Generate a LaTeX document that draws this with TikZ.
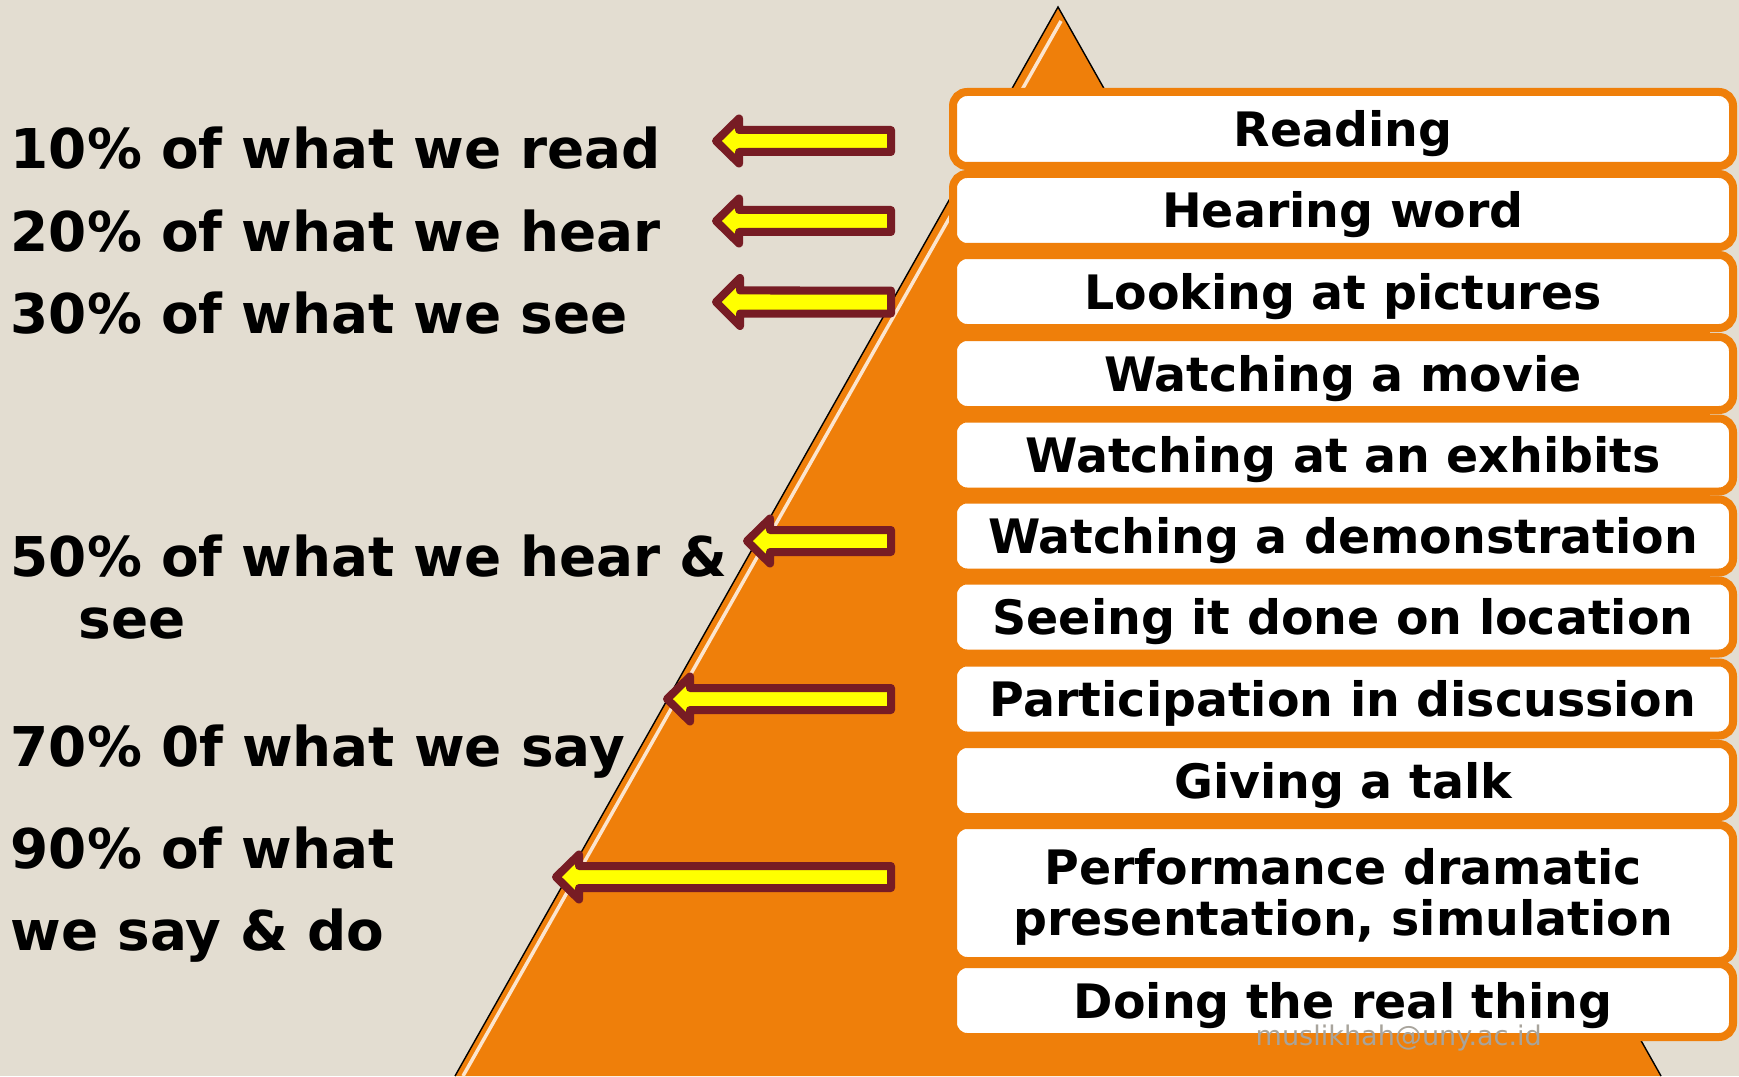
\documentclass[tikz,border=0pt]{standalone}
\usepackage{fontspec}
\setmainfont{DejaVu Sans}
\usepackage{tikz}
\definecolor{bgbeige}{RGB}{227, 221, 209}
\definecolor{pyrorange}{RGB}{239, 127, 10}
\definecolor{arrowred}{RGB}{119, 28, 36}
\definecolor{arrowyellow}{RGB}{255, 255, 0}
\definecolor{markgray}{RGB}{168, 164, 156}
\newcommand{\boxfont}{\bfseries\fontsize{13.5}{14.6}\selectfont}
\newcommand{\sidefont}{\bfseries\fontsize{15.6}{18}\selectfont}

\begin{document}
\begin{tikzpicture}[
  stage/.style={draw=pyrorange, line width=0.08cm, fill=white, rounded corners=0.14cm,
    minimum width=7.8cm, minimum height=0.73cm, inner sep=0pt, font=\boxfont},
  oneline/.style={text height=0.35cm, text depth=0pt},
  percent/.style={anchor=base west, inner sep=0pt, font=\sidefont},
  pointer/.style={draw=arrowred, fill=arrowyellow, line width=0.08cm, line join=round}]
\fill[bgbeige] (0,0) rectangle (17.39,10.76);
\useasboundingbox (0,0) rectangle (17.39,10.76);
% pyramid
\coordinate (apex) at (10.58,10.69);
\coordinate (baseL) at (4.55,0);
\coordinate (baseR) at (16.61,0);
\fill[pyrorange] (baseL) -- (apex) -- (baseR) -- cycle;
\draw[white!80!pyrorange, line width=0.035cm] (10.61,10.55) -- (4.63,0);
\draw[line width=0.4pt] (baseL) -- (apex) -- (baseR);
% arrows
\draw[pointer] (7.16,9.35) -- ++(0.23,0.225) -- ++(0,-0.115) -- (8.91,9.46) -- (8.91,9.24) -- (7.39,9.24) -- ++(0,-0.115) -- cycle;
\draw[pointer] (7.16,8.55) -- ++(0.23,0.225) -- ++(0,-0.115) -- (8.91,8.66) -- (8.91,8.44) -- (7.39,8.44) -- ++(0,-0.115) -- cycle;
\draw[pointer] (7.16,7.74) -- ++(0.24,0.24) -- ++(0,-0.125) -- (8.91,7.855) -- (8.91,7.625) -- (7.40,7.625) -- ++(0,-0.125) -- cycle;
\draw[pointer] (7.47,5.35) -- ++(0.23,0.225) -- ++(0,-0.115) -- (8.91,5.46) -- (8.91,5.24) -- (7.70,5.24) -- ++(0,-0.115) -- cycle;
\draw[pointer] (6.67,3.77) -- ++(0.23,0.225) -- ++(0,-0.115) -- (8.91,3.88) -- (8.91,3.66) -- (6.90,3.66) -- ++(0,-0.115) -- cycle;
\draw[pointer] (5.56,1.99) -- ++(0.23,0.225) -- ++(0,-0.115) -- (8.91,2.10) -- (8.91,1.88) -- (5.79,1.88) -- ++(0,-0.115) -- cycle;
% stages
\fill[pyrorange] (9.70,0.755) rectangle (17.10,9.47);
\node[stage, oneline, minimum height=0.74cm] (reading) at (13.43,9.47) {Reading};
\node[stage, oneline] (hearing) at (13.43,8.655) {Hearing word};
\node[stage, oneline] (pictures) at (13.43,7.845) {Looking at pictures};
\node[stage, oneline] (movie) at (13.43,7.025) {Watching a movie};
\node[stage, oneline] (exhibit) at (13.43,6.21) {Watching at an exhibits};
\node[stage, oneline] (demo) at (13.43,5.40) {Watching a demonstration};
\node[stage, oneline] (location) at (13.43,4.59) {Seeing it done on location};
\node[stage, oneline] (discuss) at (13.43,3.77) {Participation in discussion};
\node[stage, oneline] (talk) at (13.43,2.955) {Giving a talk};
\node[stage, align=center, minimum height=1.36cm] (perform) at (13.43,1.83) {\rule{0pt}{0.44cm}Performance dramatic\\presentation, simulation};
\node[stage, oneline] (real) at (13.43,0.755) {Doing the real thing};
% percentages
\node[percent] (read) at (0.10,9.07) {10\% of what we read};
\node[percent] (hear) at (0.10,8.24) {20\% of what we hear};
\node[percent] (see) at (0.10,7.43) {30\% of what we see};
\node[percent] (hearsee) at (0.10,5.00) {50\% of what we hear \&};
\node[percent] (hearsee2) at (0.78,4.38) {see};
\node[percent] (say) at (0.10,3.10) {70\% 0f what we say};
\node[percent] (saydo) at (0.10,2.08) {90\% of what};
\node[percent] (saydo2) at (0.10,1.26) {we say \& do};
\node[anchor=base west, inner sep=0pt, text=markgray, font=\fontsize{7.7}{9}\selectfont] (mark) at (12.55,0.31) {muslikhah@uny.ac.id};
\end{tikzpicture}
\end{document}
